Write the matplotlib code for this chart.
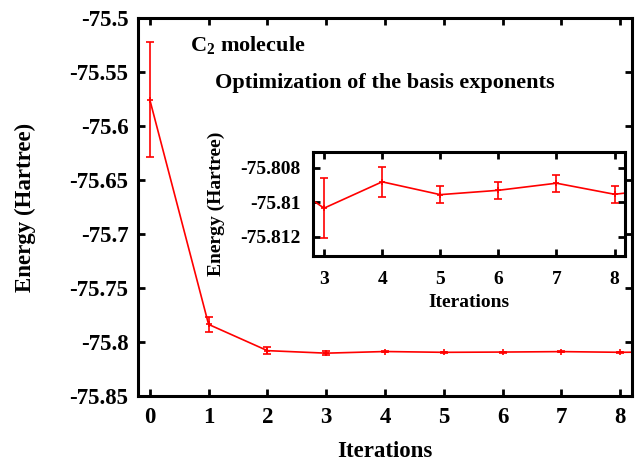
import matplotlib
matplotlib.use("Agg")
import matplotlib.pyplot as plt
import numpy as np

plt.rcParams['font.family'] = ['Liberation Serif', 'DejaVu Serif']
plt.rcParams['font.weight'] = 'bold'
plt.rcParams['mathtext.fontset'] = 'custom'
plt.rcParams['mathtext.rm'] = 'Liberation Serif:bold'
plt.rcParams['mathtext.it'] = 'Liberation Serif:bold'
plt.rcParams['mathtext.bf'] = 'Liberation Serif:bold'

iterations = [0, 1, 2, 3, 4, 5, 6, 7, 8, 9]
energy = [-75.5755, -75.7837, -75.8080, -75.81034, -75.80882, -75.80956,
          -75.80931, -75.80890, -75.80954, -75.80915]
error = [0.053, 0.0069, 0.0030, 0.00174, 0.00087, 0.0005, 0.0005, 0.0005, 0.0005, 0.0005]

main_xticks = [0, 1, 2, 3, 4, 5, 6, 7, 8]
main_yticks = [-75.85, -75.8, -75.75, -75.7, -75.65, -75.6, -75.55, -75.5]
main_ylabels = ['-75.85', '-75.8', '-75.75', '-75.7', '-75.65', '-75.6', '-75.55', '-75.5']
inset_xticks = [3, 4, 5, 6, 7, 8]
inset_yticks = [-75.812, -75.81, -75.808]
inset_ylabels = ['-75.812', '-75.81', '-75.808']

W, H = 643, 462
fig = plt.figure(figsize=(W / 100, H / 100), dpi=100)

def box(l, t, r, b):
    return [l / W, (H - b) / H, (r - l) / W, (b - t) / H]

ax = fig.add_axes(box(138, 18, 632, 396))
ax.errorbar(iterations, energy, yerr=error, color='red', lw=1.2,
            elinewidth=1.2, capsize=3, capthick=1.2, marker='+', ms=5, mew=1.2)
ax.set_xlim(-0.2, 8.2)
ax.set_ylim(-75.85, -75.5)
ax.set_xticks(main_xticks)
ax.set_xticklabels([str(v) for v in main_xticks])
ax.set_yticks(main_yticks)
ax.set_yticklabels(main_ylabels)
ax.tick_params(direction='in', top=True, right=True, length=5, width=2,
               labelsize=16.5)
ax.tick_params(axis='x', pad=8)
ax.tick_params(axis='y', pad=7)
for s in ax.spines.values():
    s.set_linewidth(2.2)
ax.set_xlabel('Iterations', fontsize=16.5, fontweight='bold', labelpad=9)
ax.set_ylabel('Energy (Hartree)', fontsize=16.5, fontweight='bold', labelpad=24)

fig.text(190 / W, 1 - 45 / H, r'C$_2$ molecule', fontsize=16, fontweight='bold',
         va='center', ha='left')
fig.text(215 / W, 1 - 83 / H, 'Optimization of the basis exponents', fontsize=16,
         fontweight='bold', va='center', ha='left')

ins = fig.add_axes(box(313, 152, 625, 256))
ins.errorbar(iterations, energy, yerr=error, color='red', lw=1.2,
             elinewidth=1.2, capsize=3, capthick=1.2, marker='+', ms=5, mew=1.2)
ins.set_xlim(2.81, 8.18)
ins.set_ylim(-75.8131, -75.8071)
ins.set_xticks(inset_xticks)
ins.set_xticklabels([str(v) for v in inset_xticks])
ins.set_yticks(inset_yticks)
ins.set_yticklabels(inset_ylabels)
ins.tick_params(direction='in', top=True, right=True, length=5, width=2,
                labelsize=14)
ins.tick_params(axis='x', pad=11)
ins.tick_params(axis='y', pad=9)
for s in ins.spines.values():
    s.set_linewidth(2.2)
ins.set_xlabel('Iterations', fontsize=14, fontweight='bold', labelpad=4)
ins.set_ylabel('Energy (Hartree)', fontsize=14, fontweight='bold', labelpad=11)

fig.savefig('out.png', dpi=100)
